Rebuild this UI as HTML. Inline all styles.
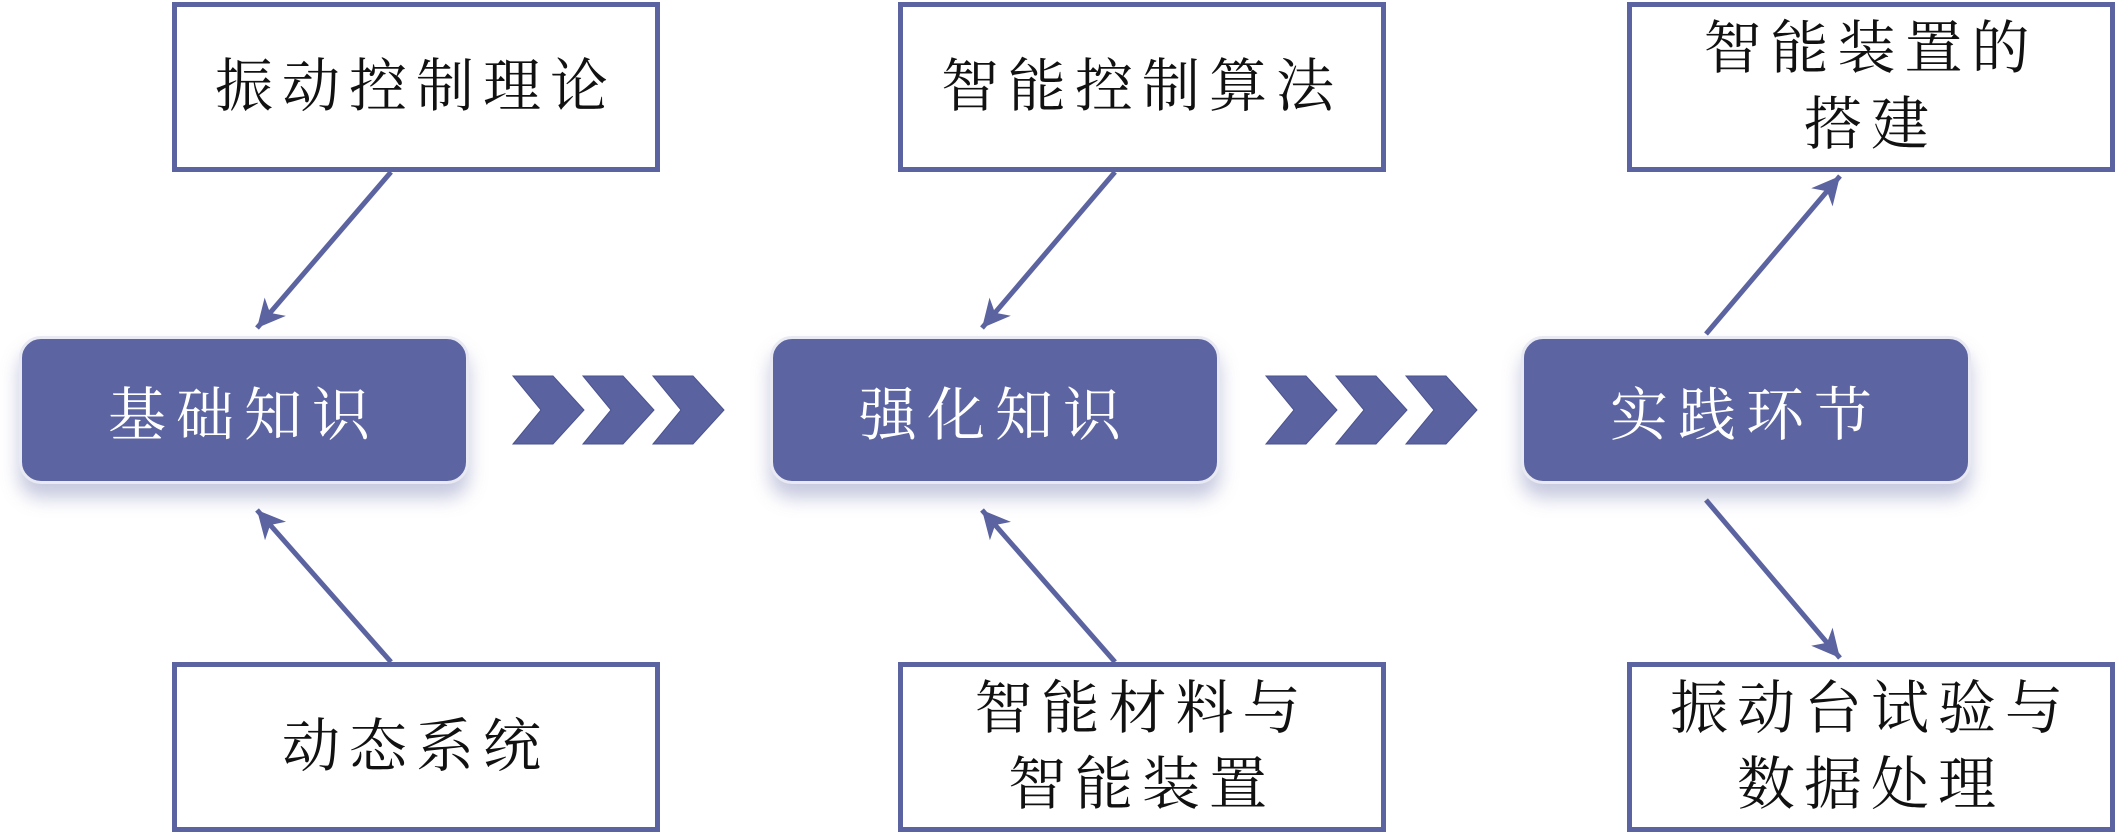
<!DOCTYPE html>
<html><head><meta charset="utf-8"><style>
html,body{margin:0;padding:0;background:#fff;}
body{width:2126px;height:836px;position:relative;overflow:hidden;font-family:"Liberation Serif","Noto Serif CJK SC",serif;}
.box{position:absolute;box-sizing:border-box;border:5px solid #5b63a0;background:#fff;display:flex;align-items:center;justify-content:center;text-align:center;color:#111;font-size:58px;letter-spacing:9px;line-height:76px;width:488px;height:170px;}
.node{position:absolute;box-sizing:border-box;background:#5c65a2;border:3px solid #e8e9f2;border-radius:22px;width:450px;height:148px;top:336px;color:#fff;font-size:58px;letter-spacing:10px;display:flex;align-items:center;justify-content:center;box-shadow:0 14px 18px rgba(92,101,162,0.35);}
svg{position:absolute;left:0;top:0;}
</style></head><body>
<svg width="2126" height="836">
<defs>
<marker id="b" markerWidth="40" markerHeight="40" refX="34" refY="20" orient="auto" markerUnits="userSpaceOnUse"><path d="M6,6 L34,20 L6,34 L14,20 Z" fill="#5b63a0"/></marker></defs>
<g stroke="#5b63a0" stroke-width="5" fill="none">
<line x1="391" y1="172" x2="257" y2="328" marker-end="url(#b)"/>
<line x1="391" y1="662" x2="257" y2="510" marker-end="url(#b)"/>
<line x1="1115" y1="172" x2="982" y2="328" marker-end="url(#b)"/>
<line x1="1115" y1="662" x2="982" y2="510" marker-end="url(#b)"/>
<line x1="1706" y1="334" x2="1840" y2="176" marker-end="url(#b)"/>
<line x1="1706" y1="500" x2="1840" y2="658" marker-end="url(#b)"/>
</g>
<g fill="#5a62a0" stroke="#4a5290" stroke-width="1">
<polygon points="513,376 553,376 584,410 553,444 513,444 541,410"/>
<polygon points="583,376 623,376 654,410 623,444 583,444 611,410"/>
<polygon points="653,376 693,376 724,410 693,444 653,444 681,410"/>
<polygon points="1266,376 1306,376 1337,410 1306,444 1266,444 1294,410"/>
<polygon points="1336,376 1376,376 1407,410 1376,444 1336,444 1364,410"/>
<polygon points="1406,376 1446,376 1477,410 1446,444 1406,444 1434,410"/>
</g>
</svg>
<div class="box" style="left:172px;top:2px;">振动控制理论</div>
<div class="box" style="left:898px;top:2px;">智能控制算法</div>
<div class="box" style="left:1627px;top:2px;">智能装置的<br>搭建</div>
<div class="box" style="left:172px;top:662px;">动态系统</div>
<div class="box" style="left:898px;top:662px;">智能材料与<br>智能装置</div>
<div class="box" style="left:1627px;top:662px;">振动台试验与<br>数据处理</div>
<div class="node" style="left:19px;">基础知识</div>
<div class="node" style="left:770px;">强化知识</div>
<div class="node" style="left:1521px;">实践环节</div>
</body></html>
